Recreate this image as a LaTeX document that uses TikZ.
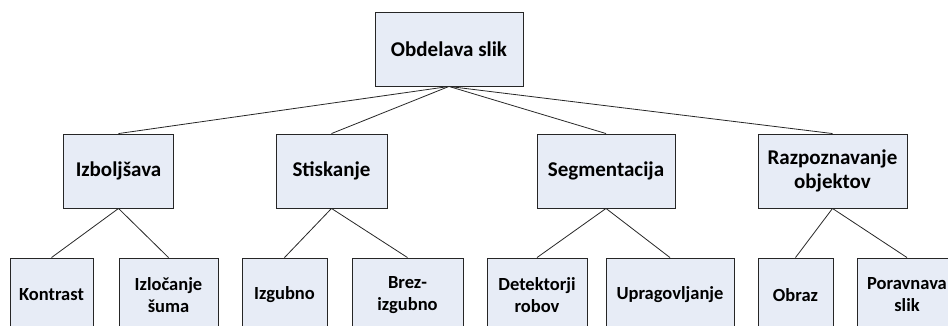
\documentclass[tikz,border=0pt]{standalone}
\usepackage{fontspec}
\setmainfont{Carlito}
\definecolor{boxfill}{HTML}{E7ECF6}
\tikzset{
  box/.style={draw=black!85,fill=boxfill,line width=0.9pt,align=center,
    font=\bfseries\fontsize{21}{24}\selectfont,inner sep=2pt,minimum height=74pt},
  leaf/.style={box,font=\bfseries\fontsize{18.5}{22}\selectfont},
  link/.style={line width=0.8pt,black!85}
}
\begin{document}
\begin{tikzpicture}[x=1pt,y=-1pt]
  \useasboundingbox (0,0) rectangle (948,325);
  % root
  \node[box,minimum width=148pt] (root) at (449,49) {Obdelava slik};
  % second level
  \foreach \n/\x/\w/\t in {imp/118.5/110/Izboljšava,stis/331.5/111/Stiskanje,
      seg/606/138/Segmentacija,raz/832.5/149/Razpoznavanje\\objektov}
    \node[box,minimum width=\w pt] (\n) at (\x,171) {\t};
  % leaves
  \foreach \n/\x/\w/\t in {kon/51.5/83/Kontrast,sum/168.5/99/Izločanje\\šuma,
      izg/284.5/85/Izgubno,brez/407.5/111/Brez-\\izgubno,
      det/537/100/Detektorji\\robov,upr/670/128/Upragovljanje,
      obr/795.5/75/Obraz,por/907/100/Poravnava\\slik}
    \node[leaf,minimum width=\w pt] (\n) at (\x,295) {\t};
  \foreach \a in {imp,stis,seg,raz}
    \draw[link] (root.south) -- (\a.north);
  \foreach \a/\b in {imp/kon,imp/sum,stis/izg,stis/brez,seg/det,seg/upr,raz/obr,raz/por}
    \draw[link] (\a.south) -- (\b.north);
\end{tikzpicture}
\end{document}
